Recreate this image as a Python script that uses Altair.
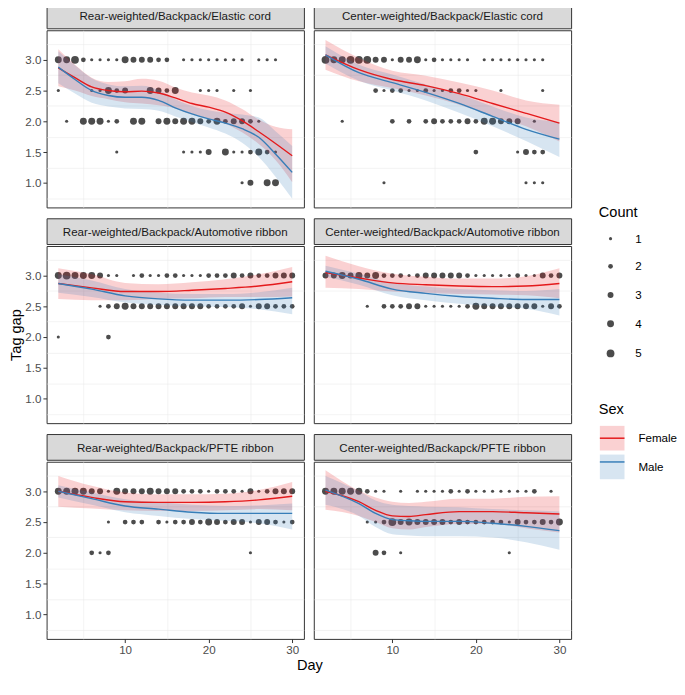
import altair as alt
import pandas as pd

FONT = "Liberation Sans"
W, H, SH = 260, 179, 26

PANELS = ["Rear-weighted/Backpack/Elastic cord", "Center-weighted/Backpack/Elastic cord",
          "Rear-weighted/Backpack/Automotive ribbon", "Center-weighted/Backpack/Automotive ribbon",
          "Rear-weighted/Backpack/PFTE ribbon", "Center-weighted/Backapck/PFTE ribbon"]
SEXES = ["Female", "Male"]
SEX_COLORS = ["#E41A1C", "#377EB8"]
X_MAJOR = [10, 20, 30]
X_MINOR = [5, 15, 25]
Y_MAJOR = [1.0, 1.5, 2.0, 2.5, 3.0]
Y_MINOR = [0.75, 1.25, 1.75, 2.25, 2.75, 3.25]
COUNT_LEVELS = [1, 2, 3, 4, 5]

# observed points: tag gap -> (days, counts)
PTS_1 = {
    3.0: ([2, 3, 4, 5, 6, 7, 8, 9, 10, 11, 12, 13, 14, 15, 17, 18, 19, 20, 21, 22, 23, 24, 26, 27, 28],
          [4, 4, 5, 2, 1, 1, 1, 1, 4, 3, 3, 3, 2, 2, 1, 1, 1, 1, 1, 1, 1, 1, 1, 1, 1]),
    2.5: ([2, 6, 7, 8, 9, 10, 13, 14, 15, 16, 19, 20, 21, 23, 25],
          [1, 1, 1, 4, 2, 3, 4, 3, 2, 4, 1, 1, 1, 1, 1]),
    2.0: ([3, 5, 6, 7, 8, 9, 11, 12, 14, 15, 16, 17, 18, 19, 20, 21, 22, 23, 24, 25, 26],
          [1, 4, 4, 4, 1, 2, 4, 4, 3, 4, 3, 4, 4, 3, 2, 4, 2, 3, 3, 2, 1]),
    1.5: ([9, 17, 18, 19, 20, 22, 23, 24, 25, 26, 27, 28],
          [1, 1, 1, 1, 3, 4, 1, 1, 2, 4, 2, 1]),
    1.0: ([24, 25, 27, 28], [1, 3, 4, 4]),
}
PTS_2 = {
    3.0: ([2, 3, 4, 5, 6, 7, 8, 9, 10, 11, 12, 13, 14, 15, 16, 17, 18, 19, 21, 22, 23, 24, 25, 26, 27, 28],
          [5, 4, 4, 5, 5, 5, 3, 3, 1, 3, 3, 4, 1, 2, 1, 1, 1, 1, 1, 1, 1, 1, 1, 1, 1, 1]),
    2.5: ([8, 9, 10, 11, 12, 13, 14, 15, 16, 17, 18, 19, 20, 23, 28],
          [2, 1, 2, 2, 1, 1, 2, 1, 1, 2, 2, 1, 1, 1, 1]),
    2.0: ([4, 10, 12, 14, 15, 16, 17, 18, 19, 20, 21, 22, 23, 24, 25, 27],
          [1, 2, 2, 2, 3, 2, 2, 2, 3, 2, 4, 4, 3, 3, 3, 1]),
    1.5: ([20, 25, 26, 27, 28], [2, 1, 3, 2, 2]),
    1.0: ([9, 26, 27, 28], [1, 1, 1, 1]),
}
PTS_3 = {
    3.0: ([2, 3, 4, 5, 6, 7, 8, 9, 11, 12, 13, 14, 15, 16, 17, 18, 19, 20, 21, 22, 23, 24, 25, 26, 27, 28, 29, 30],
          [4, 5, 4, 4, 4, 3, 1, 1, 1, 2, 1, 1, 2, 2, 1, 1, 1, 2, 2, 2, 3, 2, 3, 2, 2, 3, 3, 3]),
    2.5: ([7, 8, 9, 10, 11, 12, 13, 14, 15, 16, 17, 18, 19, 20, 21, 22, 23, 24, 25, 26, 27, 28, 29, 30],
          [1, 2, 3, 4, 3, 3, 3, 3, 3, 3, 3, 3, 3, 2, 2, 2, 2, 3, 1, 3, 3, 2, 2, 2]),
    2.0: ([2, 8], [1, 2]),
}
PTS_4 = {
    3.0: ([2, 3, 4, 5, 6, 7, 8, 9, 10, 11, 12, 13, 14, 15, 16, 17, 18, 19, 20, 21, 22, 23, 24, 25, 26, 27, 28, 29, 30],
          [3, 3, 4, 3, 4, 3, 4, 2, 2, 2, 1, 2, 3, 3, 3, 3, 3, 2, 1, 1, 1, 1, 1, 2, 1, 1, 3, 2, 3]),
    2.5: ([7, 9, 10, 11, 12, 13, 14, 15, 16, 17, 18, 19, 20, 21, 22, 23, 24, 25, 26, 27, 28, 29, 30],
          [1, 2, 2, 2, 3, 3, 1, 1, 1, 1, 1, 2, 4, 3, 3, 3, 3, 3, 3, 3, 1, 3, 2]),
}
PTS_5 = {
    3.0: ([2, 3, 4, 5, 6, 7, 8, 9, 10, 11, 12, 13, 14, 15, 16, 17, 18, 19, 20, 21, 22, 23, 24, 25, 26, 27, 28, 29, 30],
          [4, 4, 4, 4, 3, 3, 1, 4, 3, 3, 3, 4, 3, 3, 3, 2, 2, 2, 1, 2, 2, 2, 1, 3, 1, 2, 3, 3, 3]),
    2.5: ([8, 10, 11, 12, 14, 15, 16, 17, 18, 19, 20, 21, 22, 23, 24, 25, 26, 27, 28, 29, 30],
          [1, 2, 2, 2, 2, 1, 2, 2, 3, 2, 4, 3, 2, 3, 3, 1, 3, 3, 2, 1, 2]),
    2.0: ([6, 7, 8, 25], [2, 1, 2, 1]),
}
PTS_6 = {
    3.0: ([2, 3, 4, 5, 6, 7, 8, 9, 11, 13, 14, 15, 16, 17, 18, 19, 20, 21, 22, 23, 24, 25, 26, 27, 29],
          [4, 4, 4, 4, 4, 2, 1, 1, 1, 1, 1, 1, 1, 2, 1, 2, 1, 1, 1, 1, 1, 1, 1, 2, 1]),
    2.5: ([7, 8, 9, 10, 11, 12, 13, 14, 15, 16, 17, 18, 19, 20, 21, 22, 23, 24, 25, 26, 27, 28, 29, 30],
          [1, 1, 2, 5, 3, 4, 3, 3, 3, 3, 2, 3, 2, 2, 2, 2, 2, 1, 3, 2, 2, 3, 2, 4]),
    2.0: ([8, 9, 11, 24], [3, 2, 1, 1]),
}

# smoothed fits with confidence band
C1_DAY = [2, 4, 6, 8, 10, 12, 14, 16, 18, 20, 22, 24, 26, 28, 30]
C1_F_FIT = [2.87, 2.71, 2.56, 2.50, 2.48, 2.49, 2.46, 2.38, 2.29, 2.23, 2.15, 2.01, 1.83, 1.64, 1.44]
C1_F_LO = [2.57, 2.50, 2.41, 2.36, 2.31, 2.29, 2.26, 2.21, 2.11, 2.04, 1.96, 1.82, 1.63, 1.37, 1.01]
C1_F_HI = [3.17, 2.92, 2.71, 2.64, 2.65, 2.69, 2.66, 2.55, 2.47, 2.42, 2.34, 2.20, 2.03, 1.91, 1.87]
C1_M_FIT = [2.88, 2.68, 2.50, 2.42, 2.39, 2.39, 2.34, 2.22, 2.12, 2.04, 1.97, 1.88, 1.74, 1.47, 1.17]
C1_M_LO = [2.62, 2.45, 2.30, 2.24, 2.21, 2.20, 2.17, 2.08, 1.99, 1.90, 1.80, 1.65, 1.42, 1.10, 0.74]
C1_M_HI = [3.14, 2.91, 2.70, 2.60, 2.57, 2.58, 2.51, 2.36, 2.25, 2.18, 2.14, 2.11, 2.06, 1.84, 1.60]

C2_DAY = [2, 6, 10, 14, 18, 22, 26, 30]
C2_F_FIT = [3.08, 2.84, 2.68, 2.58, 2.45, 2.29, 2.13, 1.97]
C2_F_LO = [2.84, 2.65, 2.54, 2.42, 2.27, 2.08, 1.92, 1.67]
C2_F_HI = [3.32, 3.03, 2.82, 2.74, 2.63, 2.50, 2.34, 2.27]
C2_M_FIT = [3.08, 2.79, 2.63, 2.47, 2.29, 2.08, 1.87, 1.71]
C2_M_LO = [2.94, 2.66, 2.50, 2.34, 2.14, 1.92, 1.68, 1.42]
C2_M_HI = [3.22, 2.92, 2.76, 2.60, 2.44, 2.24, 2.06, 1.99]

C3_DAY = [2, 6, 10, 14, 18, 22, 26, 30]
C3_F_FIT = [2.87, 2.80, 2.74, 2.74, 2.76, 2.79, 2.83, 2.90]
C3_F_LO = [2.62, 2.60, 2.60, 2.62, 2.63, 2.65, 2.65, 2.66]
C3_F_HI = [3.12, 3.02, 2.88, 2.86, 2.89, 2.94, 3.02, 3.14]
C3_M_FIT = [2.87, 2.78, 2.67, 2.62, 2.60, 2.60, 2.61, 2.64]
C3_M_LO = [2.72, 2.65, 2.56, 2.52, 2.50, 2.49, 2.45, 2.37]
C3_M_HI = [3.02, 2.92, 2.78, 2.72, 2.70, 2.70, 2.73, 2.80]

C4_DAY = [2, 6, 10, 14, 18, 22, 26, 30]
C4_F_FIT = [3.05, 2.96, 2.88, 2.85, 2.83, 2.82, 2.83, 2.87]
C4_F_LO = [2.80, 2.78, 2.74, 2.72, 2.70, 2.69, 2.68, 2.63]
C4_F_HI = [3.32, 3.15, 3.03, 2.98, 2.95, 2.95, 2.99, 3.12]
C4_M_FIT = [3.07, 2.94, 2.78, 2.71, 2.66, 2.63, 2.61, 2.61]
C4_M_LO = [2.98, 2.85, 2.68, 2.60, 2.54, 2.50, 2.46, 2.35]
C4_M_HI = [3.16, 3.03, 2.88, 2.82, 2.78, 2.76, 2.75, 2.78]

C5_DAY = [2, 6, 10, 14, 18, 22, 26, 30]
C5_F_FIT = [3.00, 2.90, 2.83, 2.82, 2.82, 2.83, 2.86, 2.92]
C5_F_LO = [2.75, 2.72, 2.69, 2.68, 2.68, 2.69, 2.71, 2.69]
C5_F_HI = [3.25, 3.09, 2.98, 2.95, 2.95, 2.96, 3.02, 3.15]
C5_M_FIT = [3.00, 2.88, 2.76, 2.71, 2.66, 2.64, 2.64, 2.64]
C5_M_LO = [2.90, 2.78, 2.66, 2.60, 2.55, 2.52, 2.48, 2.38]
C5_M_HI = [3.10, 2.98, 2.87, 2.82, 2.78, 2.76, 2.77, 2.80]

C6_DAY = [2, 6, 8, 10, 12, 14, 18, 22, 26, 30]
C6_F_FIT = [3.00, 2.83, 2.69, 2.60, 2.59, 2.62, 2.67, 2.67, 2.65, 2.63]
C6_F_LO = [2.70, 2.60, 2.50, 2.40, 2.38, 2.42, 2.47, 2.47, 2.40, 2.33]
C6_F_HI = [3.34, 3.01, 2.90, 2.83, 2.81, 2.83, 2.88, 2.88, 2.91, 2.92]
C6_M_FIT = [3.02, 2.80, 2.64, 2.54, 2.52, 2.51, 2.51, 2.48, 2.43, 2.36]
C6_M_LO = [2.78, 2.60, 2.42, 2.30, 2.28, 2.27, 2.27, 2.25, 2.17, 2.05]
C6_M_HI = [3.25, 3.00, 2.85, 2.78, 2.76, 2.75, 2.74, 2.71, 2.69, 2.67]

PTS = [PTS_1, PTS_2, PTS_3, PTS_4, PTS_5, PTS_6]
CURVES = [
    (C1_DAY, C1_F_FIT, C1_F_LO, C1_F_HI, C1_M_FIT, C1_M_LO, C1_M_HI),
    (C2_DAY, C2_F_FIT, C2_F_LO, C2_F_HI, C2_M_FIT, C2_M_LO, C2_M_HI),
    (C3_DAY, C3_F_FIT, C3_F_LO, C3_F_HI, C3_M_FIT, C3_M_LO, C3_M_HI),
    (C4_DAY, C4_F_FIT, C4_F_LO, C4_F_HI, C4_M_FIT, C4_M_LO, C4_M_HI),
    (C5_DAY, C5_F_FIT, C5_F_LO, C5_F_HI, C5_M_FIT, C5_M_LO, C5_M_HI),
    (C6_DAY, C6_F_FIT, C6_F_LO, C6_F_HI, C6_M_FIT, C6_M_LO, C6_M_HI),
]


def points_df(p):
    rows = []
    for gap, (days, counts) in p.items():
        for d, n in zip(days, counts):
            rows.append({"day": d, "gap": gap, "n": n})
    return pd.DataFrame(rows)


def curve_df(c):
    days, ff, fl, fh, mf, ml, mh = c
    rows = []
    for sex, key, fit, lo, hi in (("Female", "F", ff, fl, fh), ("Male", "M", mf, ml, mh)):
        for d, a, b, e in zip(days, fit, lo, hi):
            rows.append({"day": d, "sex": sex, "key": key, "fit": a, "lo": b, "hi": e})
    return pd.DataFrame(rows)


GRID_COLOR = "#e8e8e8"
TICK_KW = dict(tickColor="#333333", tickSize=3.7, tickWidth=1, labelColor="#4d4d4d",
               labelFontSize=11.7, labelPadding=2, labelFont=FONT, labelOverlap=False,
               labelFlush=False, domain=False, gridColor=GRID_COLOR, gridWidth=1.1, offset=0)
MINOR_KW = dict(labels=False, ticks=False, domain=False, title=None, gridColor=GRID_COLOR,
                gridWidth=0.55, offset=0)


def x_axis(show):
    if show:
        return alt.Axis(values=X_MAJOR, title=None, format="d", orient="bottom", **TICK_KW)
    return alt.Axis(values=X_MAJOR, labels=False, ticks=False, title=None, domain=False,
                    gridColor=GRID_COLOR, gridWidth=1.1, orient="bottom")


def y_axis(show, title=None):
    if show:
        kw = dict(TICK_KW)
        if title:
            kw.update(title=title, titleFontSize=14.7, titleFontWeight="normal",
                      titleColor="#000000", titleFont=FONT, titlePadding=1)
        else:
            kw.update(title=None)
        return alt.Axis(values=Y_MAJOR, format=".1f", orient="left", **kw)
    return alt.Axis(values=Y_MAJOR, labels=False, ticks=False, title=None, domain=False,
                    gridColor=GRID_COLOR, gridWidth=1.1, orient="left")


XSCALE = alt.Scale(domain=[0.6, 31.4], nice=False, zero=False)
YSCALE = alt.Scale(domain=[0.6, 3.48], nice=False, zero=False)
COLORS = alt.Scale(domain=SEXES, range=SEX_COLORS)
STROKES = alt.Scale(domain=["F", "M"], range=SEX_COLORS)
SIZE = alt.Scale(domain=[1, 5], range=[10, 62], zero=False)

KEY = 620
LEG_X, LEG_Y = 558, 404
SEX_LEGEND = alt.Legend(title="Sex", orient="none", legendX=LEG_X, legendY=LEG_Y,
                        symbolType="square", symbolSize=KEY, rowPadding=3,
                        labelFontSize=11.7, labelColor="#000000", labelOffset=13)
LINE_LEGEND = alt.Legend(title=" ", orient="none", legendX=LEG_X, legendY=LEG_Y,
                         symbolType="stroke", symbolSize=KEY, rowPadding=3,
                         symbolStrokeWidth=1.5, labelExpr="''",
                         labelFontSize=11.7, labelOffset=13)
COUNT_LEGEND = alt.Legend(title="Count", orient="none", legendX=LEG_X, legendY=205,
                          values=COUNT_LEVELS, rowPadding=15, titlePadding=13,
                          labelFontSize=11.7, labelColor="#000000", labelOffset=19,
                          symbolOffset=6)


def strip(title):
    return alt.Chart(pd.DataFrame({"t": [title]})).mark_text(
        font=FONT, fontSize=11.7, color="#1a1a1a"
    ).encode(text="t:N", x=alt.value(W / 2), y=alt.value(SH / 2 + 1)).properties(
        width=W, height=SH,
        view=alt.ViewBackground(fill="#d9d9d9", stroke="#333333", strokeWidth=1))


def panel(i):
    row, col = divmod(i, 2)
    show_x = row == 2
    show_y = col == 0
    yt = "Tag gap" if (row == 1 and col == 0) else None
    pdf = points_df(PTS[i])
    cdf = curve_df(CURVES[i])
    minor = alt.Chart(pdf).mark_point(opacity=0).encode(
        x=alt.X("day:Q", scale=XSCALE, axis=alt.Axis(values=X_MINOR, orient="bottom", **MINOR_KW)),
        y=alt.Y("gap:Q", scale=YSCALE, axis=alt.Axis(values=Y_MINOR, orient="left", **MINOR_KW)),
    )
    pts = alt.Chart(pdf).mark_circle(color="#000000", opacity=0.7, clip=True).encode(
        x=alt.X("day:Q", scale=XSCALE, axis=x_axis(show_x)),
        y=alt.Y("gap:Q", scale=YSCALE, axis=y_axis(show_y, yt)),
        size=alt.Size("n:Q", scale=SIZE, legend=COUNT_LEGEND),
    )
    band = alt.Chart(cdf).mark_area(opacity=0.2, interpolate="monotone", clip=True).encode(
        x=alt.X("day:Q", scale=XSCALE, axis=None),
        y=alt.Y("lo:Q", scale=YSCALE, stack=None, axis=None),
        y2="hi:Q",
        color=alt.Color("sex:N", scale=COLORS, legend=SEX_LEGEND),
    )
    line = alt.Chart(cdf).mark_line(strokeWidth=1.4, interpolate="monotone", clip=True).encode(
        x=alt.X("day:Q", scale=XSCALE, axis=None),
        y=alt.Y("fit:Q", scale=YSCALE, axis=None),
        stroke=alt.Stroke("key:N", scale=STROKES, legend=LINE_LEGEND),
    )
    plot = alt.layer(minor, pts, band, line).resolve_axis(x="independent", y="independent").properties(
        width=W, height=H, view=alt.ViewBackground(stroke="#333333", strokeWidth=1, fill="white"))
    return alt.vconcat(strip(PANELS[i]), plot, spacing=0)


rows = []
for r in range(3):
    if r == 2:
        rows.append(alt.hconcat(panel(4), panel(5), spacing=8, title=alt.TitleParams(
            "Day", orient="bottom", anchor="middle", fontSize=14.7, fontWeight="normal",
            color="#000000", font=FONT, offset=2, dx=12)))
    else:
        rows.append(alt.hconcat(panel(2 * r), panel(2 * r + 1), spacing=8))

chart = alt.vconcat(*rows, spacing=9).resolve_scale(
    color="shared", stroke="shared", size="shared"
).properties(
    padding={"left": 0, "top": -10, "right": 0, "bottom": 0}
).configure(font=FONT).configure_legend(
    titleFontSize=14.7, titleFontWeight="normal", titleColor="#000000", titleFont=FONT,
    labelFont=FONT, titlePadding=8
).configure_view(stroke="#333333")

chart.save("out.html", embed_options={"renderer": "svg", "actions": False})
